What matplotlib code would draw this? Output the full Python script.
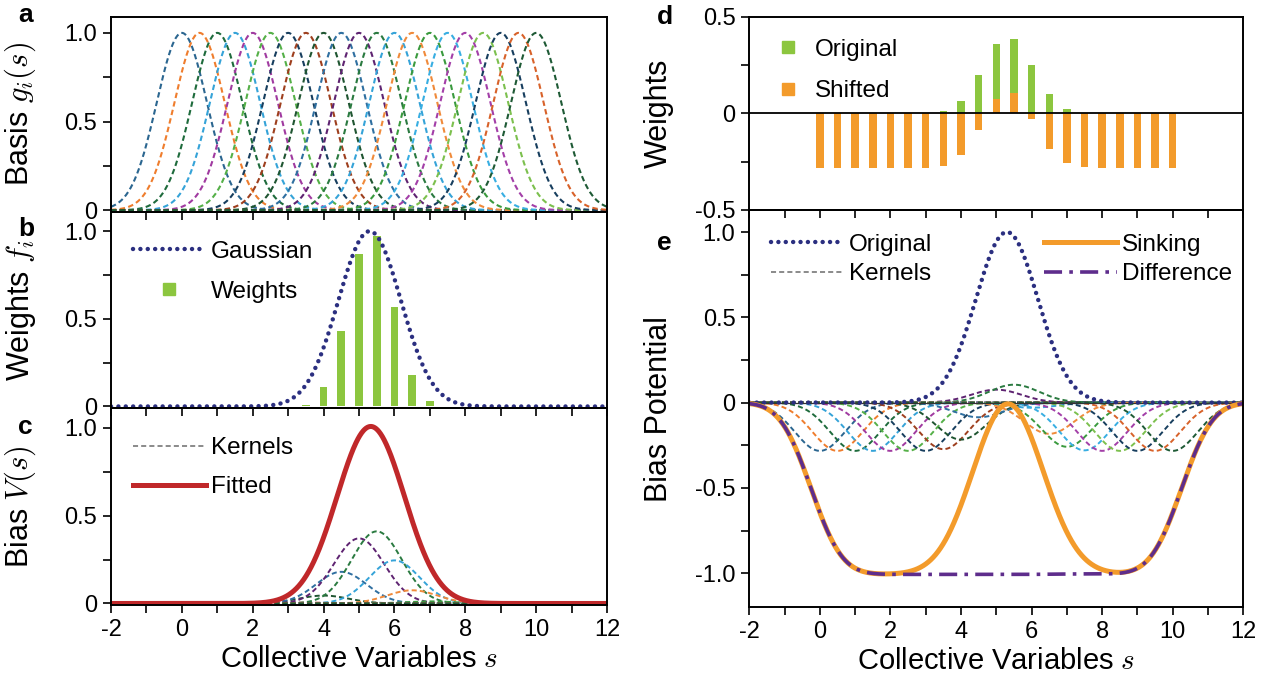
import numpy as np
import matplotlib.pyplot as plt
from matplotlib.lines import Line2D

plt.rcParams['font.family'] = ['Liberation Sans', 'DejaVu Sans']
plt.rcParams['mathtext.fontset'] = 'cm'
plt.rcParams['axes.unicode_minus'] = False

# basis functions g_i(s): centres, common width, colours
centers = [0, 0.5, 1, 1.5, 2, 2.5, 3, 3.5, 4, 4.5, 5, 5.5,
           6, 6.5, 7, 7.5, 8, 8.5, 9, 9.5, 10]
basis_width = 0.71
basis_colors = ['#2b6690', '#ef7d2d', '#1e6b3c', '#35a3d8', '#a03aa0', '#55b048',
                '#173e5e', '#9e3f1e', '#1f5531', '#2f6fa0', '#5e2371', '#2a7a40',
                '#35a3d8', '#f08a3a', '#3a9a3e', '#38aee2', '#a33fa8', '#7cc04e',
                '#173e5e', '#d8622a', '#1e5a35']

# target gaussian
target_center = 5.3
target_width = 0.88

# panel b: weights f_i
weights_b = [0, 0, 0, 0, 0, 0, 0, 0.01, 0.11, 0.43, 0.87, 0.97,
             0.57, 0.18, 0.03, 0, 0, 0, 0, 0, 0]
# panel c: kernel heights
kernel_c = [0, 0, 0, 0, 0, 0, 0, 0.005, 0.045, 0.18, 0.37, 0.41,
            0.245, 0.075, 0.012, 0, 0, 0, 0, 0, 0]
# panel d: original and shifted weights
orig_d = [0, 0, 0, 0, 0, 0, 0, 0.01, 0.066, 0.197, 0.359, 0.388,
          0.253, 0.10, 0.024, 0, 0, 0, 0, 0, 0]
shift_d = [-0.283, -0.283, -0.283, -0.283, -0.283, -0.283, -0.283, -0.273, -0.217,
           -0.086, 0.076, 0.105, -0.030, -0.183, -0.259, -0.28, -0.283, -0.283,
           -0.283, -0.283, -0.283]

navy = '#2b2f80'
green = '#8cc63f'
orange = '#f39b2b'
red = '#c0282a'
purple = '#5e2d8c'
grey = '#8a8a8a'

s = np.linspace(-2, 12, 1401)
G = np.array([np.exp(-(s - c) ** 2 / (2 * basis_width ** 2)) for c in centers])
target = np.exp(-(s - target_center) ** 2 / (2 * target_width ** 2))

dotted = (0, (0.01, 1.65))
dashed = (0, (2.6, 1.6))
dashdot = (0, (5, 2, 1, 2))

TICK = 17
LEG = 17.5
LAB = 22

fig = plt.figure(figsize=(12.7, 6.77), dpi=100)
ax_a = fig.add_axes([0.0874, 0.687, 0.3906, 0.288])
ax_b = fig.add_axes([0.0874, 0.397, 0.3906, 0.290])
ax_c = fig.add_axes([0.0874, 0.106, 0.3906, 0.291])
ax_d = fig.add_axes([0.590, 0.690, 0.389, 0.285])
ax_e = fig.add_axes([0.590, 0.103, 0.389, 0.587])


def style(ax, ylim, yticks, ylabels, show_x):
    ax.set_facecolor('none')
    ax.set_xlim(-2, 12)
    ax.set_ylim(*ylim)
    xt = list(range(-2, 13))
    ax.set_xticks(xt)
    if show_x:
        ax.set_xticklabels([str(v) if v % 2 == 0 else '' for v in xt])
        ax.set_xlabel('Collective Variables $s$', fontsize=21, labelpad=3)
    else:
        ax.set_xticklabels([])
    ax.set_yticks(yticks)
    ax.set_yticklabels(ylabels)
    ax.tick_params(direction='out', length=6, width=1.2, labelsize=TICK, pad=4)
    for sp in ax.spines.values():
        sp.set_linewidth(1.4)


# ---- a: basis
for g, col in zip(G, basis_colors):
    ax_a.plot(s, g, color=col, lw=1.5, ls=dashed)
style(ax_a, (-0.01, 1.09), [0, 0.25, 0.5, 0.75, 1.0], ['0', '', '0.5', '', '1.0'], False)
ax_a.set_ylabel('Basis $g_i(s)$', fontsize=LAB)

# ---- b: weights
ax_b.bar(centers, weights_b, width=0.22, color=green)
ax_b.plot(s, target, color=navy, lw=3.2, ls=dotted, dash_capstyle='round')
style(ax_b, (-0.01, 1.11), [0, 0.25, 0.5, 0.75, 1.0], ['0', '', '0.5', '', '1.0'], False)
ax_b.set_ylabel('Weights $f_i$', fontsize=LAB)
hb = [Line2D([], [], color=navy, lw=3.2, ls=dotted, dash_capstyle='round'),
      Line2D([], [], ls='none', marker='s', color=green, ms=8)]
ax_b.legend(hb, ['Gaussian', 'Weights'], loc='upper left', bbox_to_anchor=(0.0, 0.965),
            frameon=False, fontsize=LEG, handlelength=3.0, handletextpad=0.2,
            labelspacing=0.75)

# ---- c: kernels and fitted
kernels_c = np.array(kernel_c)[:, None] * G
for k, col in zip(kernels_c, basis_colors):
    ax_c.plot(s, k, color=col, lw=1.4, ls=dashed)
ax_c.plot(s, kernels_c.sum(axis=0), color=red, lw=3.6)
style(ax_c, (-0.01, 1.11), [0, 0.25, 0.5, 0.75, 1.0], ['0', '', '0.5', '', '1.0'], True)
ax_c.set_ylabel('Bias $V(s)$', fontsize=LAB)
hc = [Line2D([], [], color=grey, lw=1.4, ls=dashed),
      Line2D([], [], color=red, lw=3.6)]
ax_c.legend(hc, ['Kernels', 'Fitted'], loc='upper left', bbox_to_anchor=(0.0, 0.965),
            frameon=False, fontsize=LEG, handlelength=3.0, handletextpad=0.2,
            labelspacing=0.7)

# ---- d: original vs shifted weights
ax_d.bar(centers, orig_d, width=0.21, color=green)
ax_d.bar(centers, shift_d, width=0.21, color=orange)
ax_d.axhline(0, color='black', lw=1.3)
style(ax_d, (-0.5, 0.5), [-0.5, -0.25, 0, 0.25, 0.5], ['-0.5', '', '0', '', '0.5'], False)
ax_d.set_ylabel('Weights', fontsize=LAB)
hd = [Line2D([], [], ls='none', marker='s', color=green, ms=8),
      Line2D([], [], ls='none', marker='s', color=orange, ms=8)]
ax_d.legend(hd, ['Original', 'Shifted'], loc='upper left', bbox_to_anchor=(0.01, 1.0),
            frameon=False, fontsize=LEG, handlelength=1.0, handletextpad=0.6,
            labelspacing=0.8)

# ---- e: bias potential
kernels_e = np.array(shift_d)[:, None] * G
for k, col in zip(kernels_e, basis_colors):
    ax_e.plot(s, k, color=col, lw=1.4, ls=dashed)
ax_e.axhline(0, color='#333333', lw=0.9)
ax_e.plot(s, target, color=navy, lw=3.2, ls=dotted, dash_capstyle='round')
sinking = kernels_e.sum(axis=0)
difference = ((np.array(shift_d) - np.array(orig_d))[:, None] * G).sum(axis=0)
ax_e.plot(s, sinking, color=orange, lw=3.6)
ax_e.plot(s, difference, color=purple, lw=2.6, ls=dashdot)
style(ax_e, (-1.2, 1.13), [-1.0, -0.75, -0.5, -0.25, 0, 0.25, 0.5, 0.75, 1.0],
      ['-1.0', '', '-0.5', '', '0', '', '0.5', '', '1.0'], True)
ax_e.set_ylabel('Bias Potential', fontsize=LAB)
he = [Line2D([], [], color=navy, lw=3.2, ls=dotted, dash_capstyle='round'),
      Line2D([], [], color=grey, lw=1.4, ls=dashed),
      Line2D([], [], color=orange, lw=3.6),
      Line2D([], [], color=purple, lw=2.6, ls=dashdot)]
ax_e.legend(he, ['Original', 'Kernels', 'Sinking', 'Difference'], ncol=2,
            loc='upper left', bbox_to_anchor=(0.0, 0.995), frameon=False,
            fontsize=LEG, handlelength=3.0, handletextpad=0.2, labelspacing=0.3,
            columnspacing=4.6)

for ax in (ax_a, ax_b, ax_c):
    ax.yaxis.set_label_coords(-0.147, 0.5)
for ax in (ax_d, ax_e):
    ax.yaxis.set_label_coords(-0.152, 0.5)

for lbl, x, y in [('a', 0.014, 0.978), ('b', 0.014, 0.662), ('c', 0.014, 0.369),
                  ('d', 0.517, 0.975), ('e', 0.517, 0.641)]:
    fig.text(x, y, lbl, fontsize=19, fontweight='bold', va='center')

fig.savefig('out.png', dpi=100)
